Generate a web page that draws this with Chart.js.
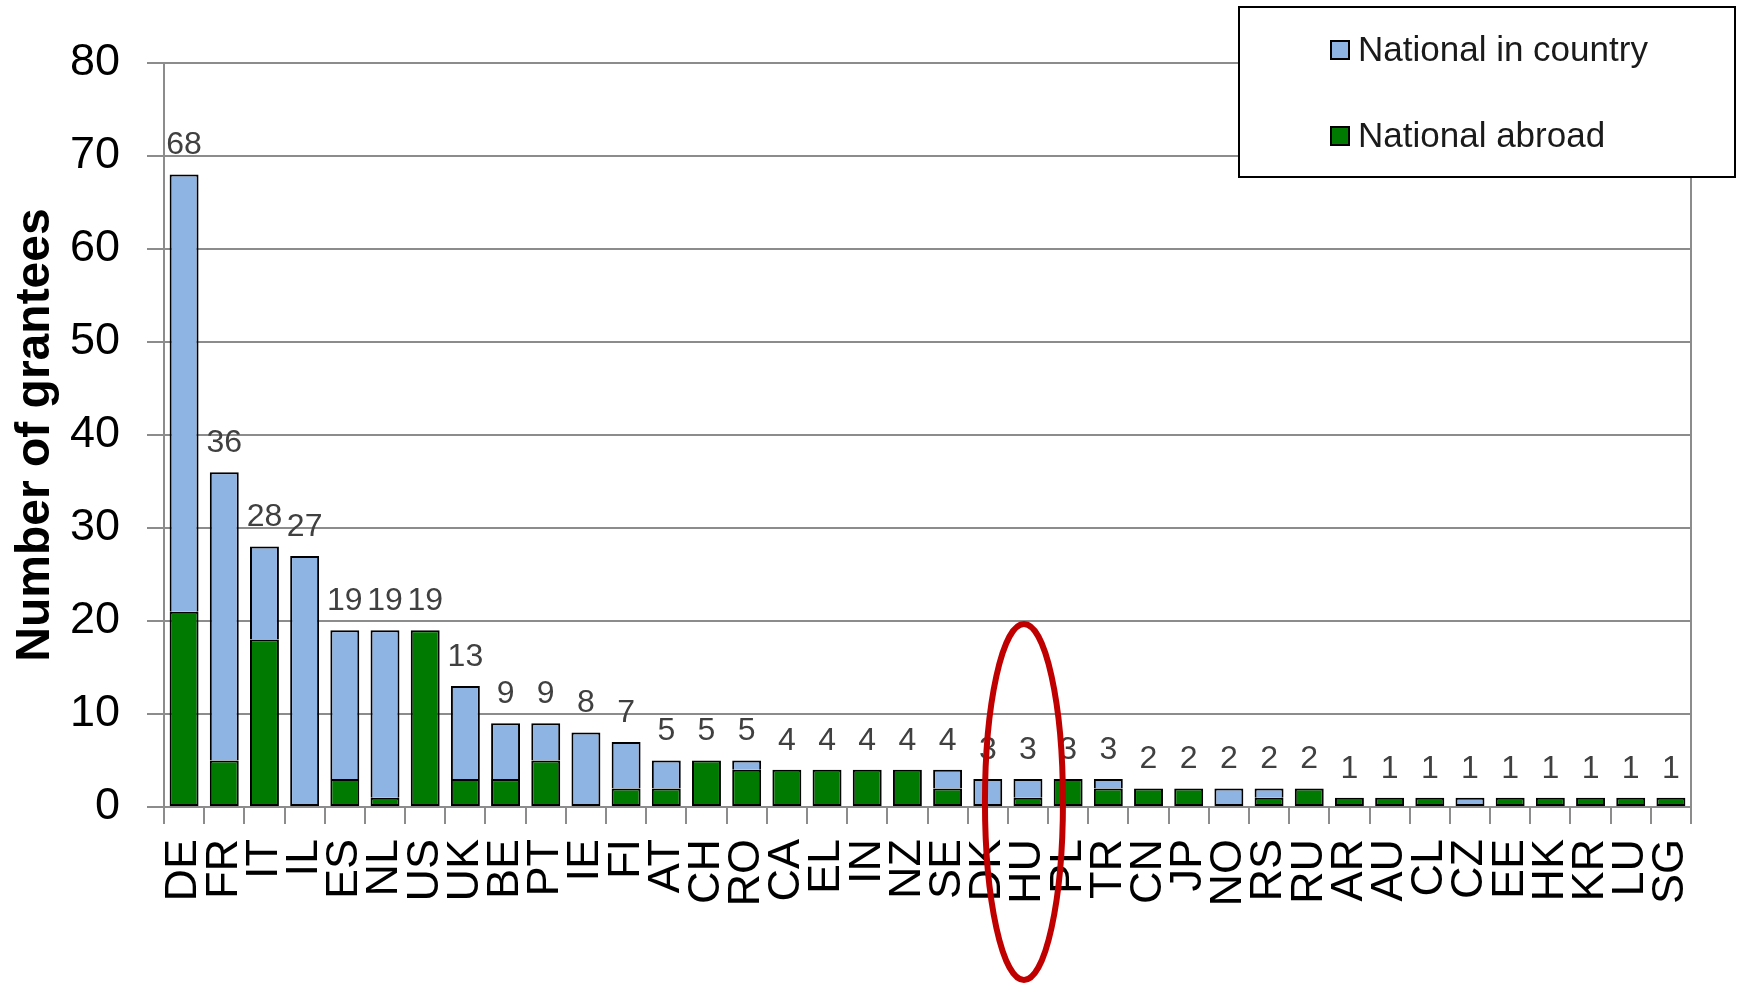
<!DOCTYPE html>
<html>
<head>
<meta charset="utf-8">
<script src="https://cdn.jsdelivr.net/npm/chart.js@4/dist/chart.umd.min.js"></script>
<style>
  html, body { margin: 0; padding: 0; background: #ffffff; }
  #wrap { width: 1742px; height: 985px; position: relative; }
</style>
</head>
<body>
<div id="wrap"><canvas id="c" width="1742" height="985"></canvas></div>
<script>
const countries = ["DE","FR","IT","IL","ES","NL","US","UK","BE","PT","IE","FI","AT","CH","RO","CA","EL","IN","NZ","SE","DK","HU","PL","TR","CN","JP","NO","RS","RU","AR","AU","CL","CZ","EE","HK","KR","LU","SG"];
const nationalAbroad    = [21,5,18,0,3,1,19,3,3,5,0,2,2,5,4,4,4,4,4,2,0,1,3,2,2,2,0,1,2,1,1,1,0,1,1,1,1,1];
const nationalInCountry = [47,31,10,27,16,18,0,10,6,4,8,5,3,0,1,0,0,0,0,2,3,2,0,1,0,0,2,1,0,0,0,0,1,0,0,0,0,0];
const yTicks = [0,10,20,30,40,50,60,70,80];
const highlighted = "HU";

const FONT = "'Liberation Sans', Arial, sans-serif";
const GRID = "#8c8c8c";
const BLUE = "#8eb4e3";
const GREEN = "#007a00";

const totalsPlugin = {
  id: 'totals',
  afterDatasetsDraw(chart) {
    const ctx = chart.ctx;
    const x = chart.scales.x, y = chart.scales.y;
    ctx.save();
    ctx.font = "32px " + FONT;
    ctx.fillStyle = "#404040";
    ctx.textAlign = "center";
    ctx.textBaseline = "bottom";
    countries.forEach((c, i) => {
      const tot = nationalAbroad[i] + nationalInCountry[i];
      ctx.fillText(String(tot), x.getPixelForValue(i), y.getPixelForValue(tot) - 13);
    });
    ctx.restore();
  }
};

const framePlugin = {
  id: 'frame',
  afterDraw(chart) {
    const ctx = chart.ctx;
    const a = chart.chartArea;
    const x = chart.scales.x, y = chart.scales.y;
    ctx.save();
    // right border
    ctx.strokeStyle = GRID;
    ctx.lineWidth = 2;
    ctx.beginPath();
    ctx.moveTo(a.right, a.top);
    ctx.lineTo(a.right, a.bottom + 17);
    ctx.stroke();

    // red ellipse highlight
    const hi = countries.indexOf(highlighted);
    const cx = x.getPixelForValue(hi) - 4;
    const top = y.getPixelForValue(20) + 3;
    const ry = 178;
    ctx.strokeStyle = "#c00000";
    ctx.lineWidth = 6;
    ctx.beginPath();
    ctx.ellipse(cx, top + ry, 39, ry, 0, 0, Math.PI * 2);
    ctx.stroke();

    // legend box
    const bx = 1239, by = 7, bw = 496, bh = 170;
    ctx.fillStyle = "#ffffff";
    ctx.fillRect(bx, by, bw, bh);
    ctx.strokeStyle = "#000000";
    ctx.lineWidth = 2;
    ctx.strokeRect(bx, by, bw, bh);
    const items = [chart.data.datasets[1], chart.data.datasets[0]];
    const rows = [50, 136];
    ctx.font = "35px " + FONT;
    ctx.textAlign = "left";
    ctx.textBaseline = "middle";
    items.forEach((ds, k) => {
      const ry2 = rows[k];
      ctx.fillStyle = ds.backgroundColor;
      ctx.fillRect(1331, ry2 - 9, 18, 18);
      ctx.strokeStyle = "#000";
      ctx.lineWidth = 2;
      ctx.strokeRect(1331, ry2 - 9, 18, 18);
      ctx.fillStyle = "#1a1a1a";
      ctx.fillText(ds.label, 1358, ry2 + 1);
    });
    ctx.restore();
  }
};

const nz = arr => arr.map(v => (v === 0 ? null : v));

new Chart(document.getElementById('c'), {
  type: 'bar',
  data: {
    labels: countries,
    datasets: [
      { label: "National abroad", data: nz(nationalAbroad), backgroundColor: GREEN, borderColor: "#000", borderWidth: 2, borderSkipped: false, barPercentage: 0.72, categoryPercentage: 1.0 },
      { label: "National in country", data: nz(nationalInCountry), backgroundColor: BLUE, borderColor: "#000", borderWidth: 2,
        borderSkipped: (c) => (nationalAbroad[c.dataIndex] ? 'bottom' : false), barPercentage: 0.72, categoryPercentage: 1.0 }
    ]
  },
  options: {
    responsive: false,
    animation: false,
    layout: { padding: { top: 63, left: 0, right: 51, bottom: 0 } },
    plugins: { legend: { display: false }, tooltip: { enabled: false } },
    scales: {
      x: {
        stacked: true,
        grid: { drawOnChartArea: false, drawTicks: true, tickLength: 17, color: GRID, lineWidth: 2, offset: true },
        border: { color: GRID, width: 2 },
        ticks: { autoSkip: false, maxRotation: 90, minRotation: 90, padding: 15, color: "#000", font: { size: 45, family: FONT } },
        afterFit(s) { s.height = 178; }
      },
      y: {
        stacked: true,
        min: 0, max: 80,
        afterBuildTicks(s) { s.ticks = yTicks.map(v => ({ value: v })); },
        grid: { color: GRID, lineWidth: 2, tickLength: 17 },
        border: { color: GRID, width: 2 },
        ticks: { padding: 27, color: "#000", font: { size: 45, family: FONT } },
        title: { display: true, text: "Number of grantees", color: "#000", font: { size: 48, weight: "bold", family: FONT }, padding: { top: 7, bottom: 0 } },
        afterFit(s) { s.width = 164; }
      }
    }
  },
  plugins: [totalsPlugin, framePlugin]
});
</script>
</body>
</html>
